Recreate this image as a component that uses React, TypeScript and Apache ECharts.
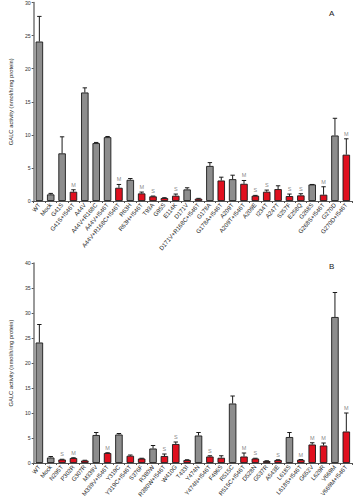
import React, { useEffect, useRef } from "react";
import * as echarts from "echarts";

const catsA = ["WT","Mock","G41S","G41S+I546T","A44V","A44V+R168C","A44V+I546T","A44V+R168C+I546T","R63H","R63H+I546T","T93A","G95S","E114K","D171V","D171V+R168C+I546T","G178A","G178A+I546T","A209T","A209T+I546T","A209E","I234T","A247T","S257F","E258Q","G268S","G268S+I546T","G270D","G270D+I546T"];
const meanA = [24.1,1.0,7.2,1.4,16.4,8.75,9.65,2.0,3.2,1.15,0.7,0.45,0.8,1.75,0.35,5.3,3.1,3.3,2.6,0.8,1.4,1.8,0.75,0.85,2.5,0.95,9.9,7.0];
const sdA = [3.8,0.15,2.5,0.3,0.7,0.1,0.1,0.5,0.2,0.2,0.05,0.05,0.25,0.25,0.05,0.5,0.5,0.6,0.5,0.05,0.25,0.5,0.3,0.25,0,1.2,2.6,2.4];
const redA = [0,0,0,1,0,0,0,1,0,1,1,1,1,0,1,0,1,0,1,1,1,1,1,1,0,1,0,1];
const sigA = ["","","","M","","","","M","","M","S","","S","","","","","","M","S","S","","S","S","","M","","M"];

const catsB = ["WT","Mock","N295T","P302R","G307R","M339V","M339V+I546T","Y319C","Y319C+I546T","S376F","R380W","R380W+I546T","W410G","T433I","Y474N","Y474N+I546T","F496S","R515C","R515C+I546T","D528N","G537R","A543E","L618S","L618S+I546T","G652V","L629R","V669M","V669M+I546T"];
const meanB = [24.1,1.1,0.7,1.0,0.5,5.6,2.0,5.7,1.45,0.9,2.9,1.4,3.8,0.6,5.5,1.3,1.05,11.9,1.3,0.9,0.4,0.6,5.2,0.65,3.7,3.5,29.2,6.3];
const sdB = [3.6,0.2,0.05,0.05,0.05,0.5,0.05,0.2,0.15,0.05,0.6,0.4,0.4,0.05,0.6,0.15,0.4,1.5,0.7,0.05,0.05,0.05,0.9,0.05,0.35,0.5,4.9,3.7];
const redB = [0,0,1,1,1,0,1,0,1,1,0,1,1,1,0,1,1,0,1,1,1,1,0,1,1,1,0,1];
const sigB = ["","","S","M","","","M","","","","","S","S","","","S","","","M","S","","S","","M","M","M","","M"];

const yTitle = "GALC activity (nmol/h/mg protein)";

const GRAY = "#8d8d8d";
const RED = "#e0101f";
const FONT = "Liberation Sans, Arial, sans-serif";

function barSeries(idx: number, means: number[], reds: number[]) {
  return {
    type: "bar",
    xAxisIndex: idx,
    yAxisIndex: idx,
    barWidth: "66%",
    data: means.map((v, i) => ({
      value: v,
      itemStyle: { color: reds[i] ? RED : GRAY, borderColor: "#1a1a1a", borderWidth: 0.9 },
    })),
  };
}

function errSeries(idx: number, means: number[], sds: number[]) {
  return {
    type: "custom",
    xAxisIndex: idx,
    yAxisIndex: idx,
    z: 3,
    data: means.map((v, i) => [i, v, v + sds[i]]),
    renderItem: (params: any, api: any) => {
      const p0 = api.coord([api.value(0), api.value(1)]);
      const p1 = api.coord([api.value(0), api.value(2)]);
      const half = 2.2;
      return {
        type: "group",
        children: [
          { type: "line", shape: { x1: p0[0], y1: p0[1], x2: p1[0], y2: p1[1] }, style: { stroke: "#1a1a1a", lineWidth: 1 } },
          { type: "line", shape: { x1: p1[0] - half, y1: p1[1], x2: p1[0] + half, y2: p1[1] }, style: { stroke: "#1a1a1a", lineWidth: 1 } },
        ],
      };
    },
  };
}

function sigSeries(idx: number, means: number[], sds: number[], sig: string[]) {
  const data: any[] = [];
  sig.forEach((s, i) => {
    if (s) data.push({ value: [i, means[i] + sds[i]], label: { formatter: s } });
  });
  return {
    type: "scatter",
    xAxisIndex: idx,
    yAxisIndex: idx,
    symbolSize: 0,
    silent: true,
    data,
    label: { show: true, position: "top", distance: 2, fontSize: 5.5, color: "#666", fontFamily: FONT },
  };
}

function xAxis(idx: number, cats: string[]) {
  return {
    type: "category",
    gridIndex: idx,
    data: cats,
    axisLine: { lineStyle: { color: "#555", width: 1.2 } },
    axisTick: { show: true, interval: 0, length: 2, lineStyle: { color: "#555" } },
    axisLabel: { interval: 0, rotate: 50, fontSize: 6, margin: 3, color: "#222", fontFamily: FONT },
  };
}

function yAxis(idx: number, max: number) {
  return {
    type: "value",
    gridIndex: idx,
    min: 0,
    max,
    interval: 5,
    name: yTitle,
    nameLocation: "middle",
    nameGap: 10,
    nameRotate: 90,
    nameTextStyle: { fontSize: 5.8, color: "#222", fontFamily: FONT },
    axisLine: { show: true, lineStyle: { color: "#777", width: 1.5 } },
    axisTick: { show: true, length: 2, lineStyle: { color: "#555" } },
    splitLine: { show: false },
    axisLabel: { fontSize: 5.2, margin: 3, color: "#333", fontFamily: FONT },
  };
}

export default function App() {
  const ref = useRef<HTMLDivElement>(null);
  useEffect(() => {
    if (!ref.current) return;
    const chart = echarts.init(ref.current, null, { renderer: "svg" });
    chart.setOption({
      animation: false,
      backgroundColor: "#fff",
      grid: [
        { left: 17, right: 1, top: 2, height: 199 },
        { left: 17, right: 1, top: 263, height: 204 },
      ],
      xAxis: [xAxis(0, catsA), xAxis(1, catsB)],
      yAxis: [yAxis(0, 30), yAxis(1, 40)],
      graphic: [
        { type: "text", left: 329, top: 9, style: { text: "A", fontSize: 8, fill: "#222", fontFamily: FONT } },
        { type: "text", left: 329, top: 262, style: { text: "B", fontSize: 8, fill: "#222", fontFamily: FONT } },
      ],
      series: [
        barSeries(0, meanA, redA),
        errSeries(0, meanA, sdA),
        sigSeries(0, meanA, sdA, sigA),
        barSeries(1, meanB, redB),
        errSeries(1, meanB, sdB),
        sigSeries(1, meanB, sdB, sigB),
      ],
    });
    return () => chart.dispose();
  }, []);
  return (
    <div
      ref={ref}
      style={{ position: "fixed", left: 0, top: 0, width: 353, height: 500, background: "#fff" }}
    />
  );
}
